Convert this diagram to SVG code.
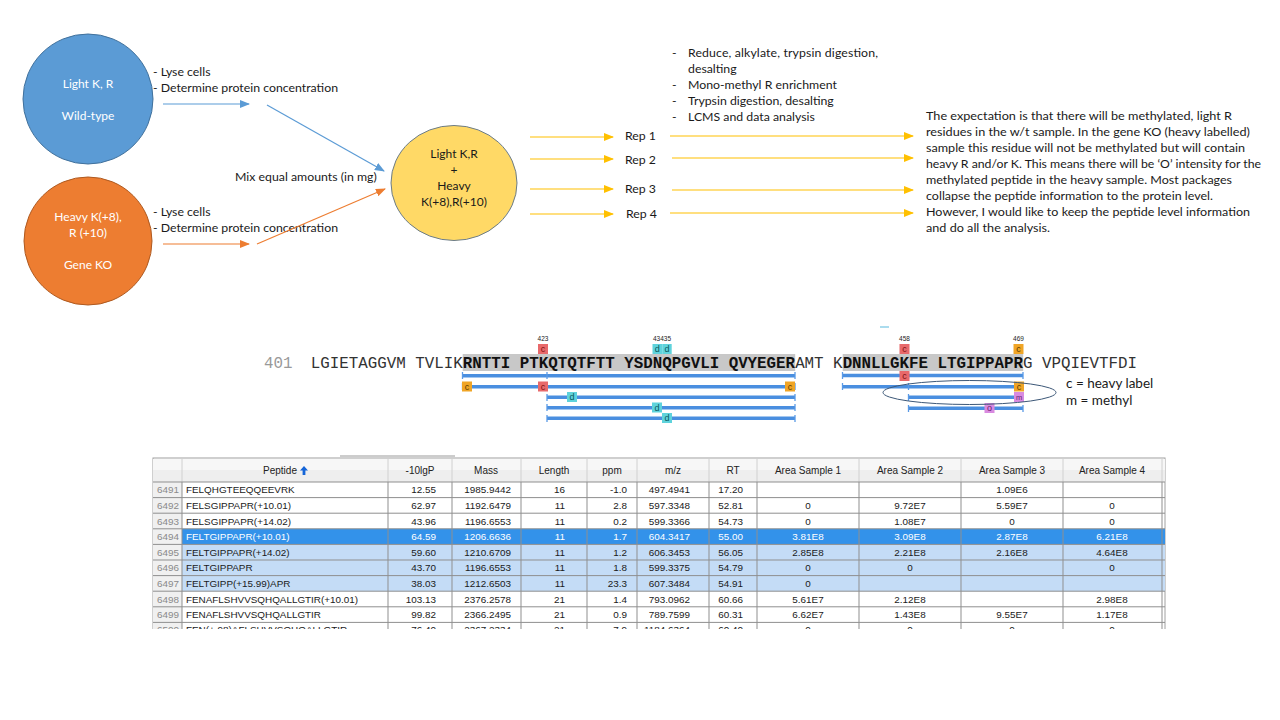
<svg xmlns="http://www.w3.org/2000/svg" width="1280" height="720" viewBox="0 0 1280 720">
<defs>
<style>
.t{font-family:Lato,"Liberation Sans",sans-serif;font-size:12.3px;fill:#1a1a1a}
.p{font-family:Lato,"Liberation Sans",sans-serif;font-size:11.4px;fill:#1a1a1a}
.w{font-family:Lato,"Liberation Sans",sans-serif;font-size:12px;fill:#ffffff;text-anchor:middle}
.seq{font-family:"Liberation Mono",monospace;font-size:15.83px;fill:#333}
.lbl{font-family:"Liberation Sans",sans-serif;font-size:6.5px;fill:#222;text-anchor:middle}
.bx{font-family:"Liberation Sans",sans-serif;font-size:9px;text-anchor:middle}
.bar{stroke:#4a8fe0;stroke-width:3.5}
.tick{stroke:#5a9ae6;stroke-width:1.3}
.tb{font-family:"Liberation Sans",sans-serif;font-size:9.9px;fill:#1a1a1a}
.th{font-family:"Liberation Sans",sans-serif;font-size:10px;fill:#222;text-anchor:middle}
.rn{font-family:"Liberation Sans",sans-serif;font-size:9.9px;fill:#8a8a8a}
.r{text-anchor:end}
.c{text-anchor:middle}
.sel{fill:#ffffff}
</style>
<marker id="mb" markerWidth="10" markerHeight="8" refX="9" refY="4" orient="auto" markerUnits="userSpaceOnUse"><path d="M0,0 L10,4 L0,8 Z" fill="#5b9bd5"/></marker>
<marker id="mo" markerWidth="10" markerHeight="8" refX="9" refY="4" orient="auto" markerUnits="userSpaceOnUse"><path d="M0,0 L10,4 L0,8 Z" fill="#ed7d31"/></marker>
<marker id="my" markerWidth="10" markerHeight="8" refX="9" refY="4" orient="auto" markerUnits="userSpaceOnUse"><path d="M0,0 L10,4 L0,8 Z" fill="#ffc000"/></marker>
<clipPath id="tclip"><rect x="150" y="450" width="1020" height="179"/></clipPath>
</defs>
<rect width="1280" height="720" fill="#ffffff"/>

<g id="light">
<circle cx="88" cy="99" r="65" fill="#5b9bd5" stroke="#41719c" stroke-width="1"/>
<text class="w" x="88" y="88">Light K, R</text>
<text class="w" x="88" y="120">Wild-type</text>
</g>
<g id="heavy">
<circle cx="88" cy="241" r="64" fill="#ed7d31" stroke="#ae5a21" stroke-width="1"/>
<text class="w" x="88" y="221">Heavy K(+8),</text>
<text class="w" x="88" y="237">R (+10)</text>
<text class="w" x="88" y="269">Gene  KO</text>
</g>
<g id="mix">
<ellipse cx="454" cy="183" rx="63" ry="57.5" fill="#ffd966" stroke="#6b7c88" stroke-width="1"/>
<text class="t" x="454" y="158" text-anchor="middle" style="font-size:12px">Light K,R</text>
<text class="t" x="454" y="174" text-anchor="middle" style="font-size:12px">+</text>
<text class="t" x="454" y="190" text-anchor="middle" style="font-size:12px">Heavy</text>
<text class="t" x="454" y="206" text-anchor="middle" style="font-size:12px">K(+8),R(+10)</text>
</g>
<g id="labels">
<text class="t" x="153" y="76">- Lyse cells</text>
<text class="t" x="153" y="92">- Determine  protein concentration</text>
<text class="t" x="153" y="216">- Lyse cells</text>
<text class="t" x="153" y="232">- Determine  protein concentration</text>
<text class="t" x="235" y="181">Mix equal amounts (in mg)</text>
<text class="t" x="625" y="140">Rep 1</text>
<text class="t" x="625" y="164">Rep 2</text>
<text class="t" x="625" y="193">Rep 3</text>
<text class="t" x="626" y="218">Rep 4</text>
</g>
<g id="steps">
<text class="t" x="672" y="57">-</text><text class="t" x="688" y="57" textLength="190" lengthAdjust="spacing">Reduce, alkylate, trypsin digestion,</text>
<text class="t" x="688" y="73">desalting</text>
<text class="t" x="672" y="89">-</text><text class="t" x="688" y="89">Mono-methyl R enrichment</text>
<text class="t" x="672" y="105">-</text><text class="t" x="688" y="105">Trypsin digestion, desalting</text>
<text class="t" x="672" y="121">-</text><text class="t" x="688" y="121">LCMS and data analysis</text>
</g>
<g id="note">
<text class="p" x="926" y="120" textLength="306" lengthAdjust="spacingAndGlyphs">The expectation is that there will be methylated, light R</text>
<text class="p" x="926" y="136" textLength="324" lengthAdjust="spacingAndGlyphs">residues in the w/t sample. In the gene KO (heavy labelled)</text>
<text class="p" x="926" y="152" textLength="319" lengthAdjust="spacingAndGlyphs">sample this residue will not be methylated but will contain</text>
<text class="p" x="926" y="168" textLength="335" lengthAdjust="spacingAndGlyphs">heavy R and/or K. This means there will be ‘O’ intensity for the</text>
<text class="p" x="926" y="184" textLength="306" lengthAdjust="spacingAndGlyphs">methylated peptide in the heavy sample. Most packages</text>
<text class="p" x="926" y="200" textLength="287" lengthAdjust="spacingAndGlyphs">collapse the peptide information to the protein level.</text>
<text class="p" x="926" y="216" textLength="324" lengthAdjust="spacingAndGlyphs">However, I would like to keep the peptide level information</text>
<text class="p" x="926" y="232" textLength="124" lengthAdjust="spacingAndGlyphs">and do all the analysis.</text>
</g>
<g id="connectors" fill="none" stroke-width="1.2">
<line x1="163" y1="104" x2="249" y2="104" stroke="#5b9bd5" marker-end="url(#mb)"/>
<line x1="267" y1="105" x2="384" y2="171" stroke="#5b9bd5" marker-end="url(#mb)"/>
<line x1="163" y1="244" x2="249" y2="244" stroke="#ed7d31" marker-end="url(#mo)"/>
<line x1="257" y1="244" x2="385" y2="189" stroke="#ed7d31" marker-end="url(#mo)"/>
<line x1="530" y1="137" x2="613" y2="137" stroke="#ffc000" marker-end="url(#my)"/>
<line x1="530" y1="159" x2="613" y2="159" stroke="#ffc000" marker-end="url(#my)"/>
<line x1="530" y1="189" x2="613" y2="189" stroke="#ffc000" marker-end="url(#my)"/>
<line x1="530" y1="214" x2="613" y2="214" stroke="#ffc000" marker-end="url(#my)"/>
<line x1="670" y1="136" x2="913" y2="136" stroke="#ffc000" marker-end="url(#my)"/>
<line x1="672" y1="158" x2="913" y2="158" stroke="#ffc000" marker-end="url(#my)"/>
<line x1="672" y1="190" x2="913" y2="190" stroke="#ffc000" marker-end="url(#my)"/>
<line x1="670" y1="213" x2="913" y2="213" stroke="#ffc000" marker-end="url(#my)"/>
</g>

<g id="sequence">
<line x1="880" y1="327" x2="889" y2="327" stroke="#8fd0e8" stroke-width="1.5"/>
<rect x="462.7" y="354" width="332.5" height="17" fill="#c8c8c8"/>
<rect x="842.7" y="354" width="180.5" height="17" fill="#c8c8c8"/>
<text class="seq" x="264" y="368" style="fill:#999">401</text>
<text class="seq" x="310.7" y="368" xml:space="preserve">LGIETAGGVM TVLIK<tspan font-weight="bold" fill="#111">RNTTI PTKQTQTFTT YSDNQPGVLI QVYEGER</tspan>AMT K<tspan font-weight="bold" fill="#111">DNNLLGKFE LTGIPPAPR</tspan>G VPQIEVTFDI</text>
<text class="lbl" x="543" y="341">423</text>
<text class="lbl" x="662" y="341">43435</text>
<text class="lbl" x="904.5" y="341">458</text>
<text class="lbl" x="1018.5" y="341">469</text>
<g id="topboxes">
<rect x="538" y="344" width="10" height="10" fill="#e8696b"/><text class="bx" x="543" y="352" fill="#7a1010">c</text>
<rect x="652.5" y="344" width="9.5" height="10" fill="#5fd3dc"/><text class="bx" x="657.2" y="352" fill="#0a5a60">d</text>
<rect x="662.2" y="344" width="9.5" height="10" fill="#5fd3dc"/><text class="bx" x="667" y="352" fill="#0a5a60">d</text>
<rect x="899.5" y="344" width="10" height="10" fill="#e8696b"/><text class="bx" x="904.5" y="352" fill="#7a1010">c</text>
<rect x="1013.5" y="344" width="10" height="10" fill="#f0a526"/><text class="bx" x="1018.5" y="352" fill="#5a3a00">c</text>
</g>
<g id="bars">
<line class="bar" x1="462" y1="375.7" x2="795" y2="375.7"/>
<line class="bar" x1="462" y1="386.7" x2="795" y2="386.7"/>
<line class="bar" x1="547" y1="397.3" x2="795" y2="397.3"/>
<line class="bar" x1="547" y1="407.7" x2="795" y2="407.7"/>
<line class="bar" x1="547" y1="418.3" x2="795" y2="418.3"/>
<line class="bar" x1="842" y1="375.5" x2="1023" y2="375.5"/>
<line class="bar" x1="842" y1="386.7" x2="1023" y2="386.7"/>
<line class="bar" x1="908" y1="397.3" x2="1023" y2="397.3"/>
<line class="bar" x1="908" y1="408.3" x2="1023" y2="408.3"/>
<path class="tick" d="M462.5,372v7M547,372v7M795,372v7M462.5,383v7M795,383v7M547,394v7M795,394v7M547,404v7M795,404v7M547,415v7M795,415v7M842.5,372v7M908.5,372v7M1023,372v7M842.5,383v7M908.5,383v7M1023,383v7M908.5,394v7M1023,394v7M908.5,405v7M1023,405v7"/>
<rect x="462" y="381.5" width="10" height="10" fill="#f0a526"/><text class="bx" x="467" y="389.5" fill="#5a3a00">c</text>
<rect x="538" y="381.5" width="10" height="10" fill="#e8696b"/><text class="bx" x="543" y="389.5" fill="#7a1010">c</text>
<rect x="785" y="381.5" width="10" height="10" fill="#f0a526"/><text class="bx" x="790" y="389.5" fill="#5a3a00">c</text>
<rect x="567" y="392" width="10" height="10" fill="#5fd3dc"/><text class="bx" x="572" y="400" fill="#0a5a60">d</text>
<rect x="652" y="402.5" width="10" height="10" fill="#5fd3dc"/><text class="bx" x="657" y="410.5" fill="#0a5a60">d</text>
<rect x="662" y="413" width="10" height="10" fill="#5fd3dc"/><text class="bx" x="667" y="421" fill="#0a5a60">d</text>
<rect x="899.5" y="371" width="10" height="10" fill="#e8696b"/><text class="bx" x="904.5" y="379" fill="#7a1010">c</text>
<rect x="1014" y="381.5" width="10" height="10" fill="#f0a526"/><text class="bx" x="1019" y="389.5" fill="#5a3a00">c</text>
<rect x="1014" y="392" width="10" height="10" fill="#d98ae0"/><text class="bx" x="1019" y="400" fill="#6a2070" style="font-size:7.5px">m</text>
<rect x="984.5" y="403" width="10" height="10" fill="#d98ae0"/><text class="bx" x="989.5" y="411" fill="#6a2070">o</text>
</g>
<ellipse cx="969.5" cy="392.5" rx="86.5" ry="12" fill="none" stroke="#3d5878" stroke-width="1"/>
<text class="t" x="1066" y="388" style="font-size:13.5px">c = heavy label</text>
<text class="t" x="1066" y="405" style="font-size:13.5px">m = methyl</text>
</g>

<g id="table">
<line x1="340" y1="456" x2="455" y2="456" stroke="#9a9a9a" stroke-width="1"/>
<g clip-path="url(#tclip)">
<rect x="153" y="458" width="1012" height="182" fill="#ffffff" stroke="#a0a0a0"/>
<rect x="153" y="459" width="1012" height="23" fill="#eeeeee"/>
<rect x="153" y="459" width="1012" height="11" fill="#f7f7f7"/>
<rect x="153" y="482" width="29" height="160" fill="#f0f0f0"/>
<rect x="182" y="528.8" width="983" height="15.6" fill="#3392ea"/>
<rect x="182" y="544.4" width="983" height="46.8" fill="#c4dcf6"/>
<g stroke="#d0d0d0" stroke-width="1">
<path d="M182,459v23M388,459v23M452,459v23M521,459v23M587,459v23M637,459v23M709,459v23M757,459v23M859,459v23M961,459v23M1063,459v23M1162,459v23"/>
</g>
<g stroke="#8f8f8f" stroke-width="1">
<path d="M153,482H1165M153,497.6H1165M153,513.2H1165M153,528.8H1165M153,544.4H1165M153,560H1165M153,575.6H1165M153,591.2H1165M153,606.8H1165M153,622.4H1165"/>
<path d="M182,482v160M388,482v160M452,482v160M521,482v160M587,482v160M637,482v160M709,482v160M757,482v160M859,482v160M961,482v160M1063,482v160M1162,482v160"/>
</g>
<text class="th" x="280" y="474">Peptide</text>
<path d="M304,466l-4,4.5h2.6v4.5h2.8v-4.5h2.6z" fill="#1565d8"/>
<text class="th" x="420" y="474">-10lgP</text>
<text class="th" x="486" y="474">Mass</text>
<text class="th" x="554" y="474">Length</text>
<text class="th" x="612" y="474">ppm</text>
<text class="th" x="673" y="474">m/z</text>
<text class="th" x="733" y="474">RT</text>
<text class="th" x="808" y="474">Area Sample 1</text>
<text class="th" x="910" y="474">Area Sample 2</text>
<text class="th" x="1012" y="474">Area Sample 3</text>
<text class="th" x="1112" y="474">Area Sample 4</text>

<g class="tb">
<text class="rn" x="157" y="493.3">6491</text><text x="186" y="493.3">FELQHGTEEQQEEVRK</text><text class="r" x="436" y="493.3">12.55</text><text class="r" x="511" y="493.3">1985.9442</text><text class="r" x="565" y="493.3">16</text><text class="r" x="627" y="493.3">-1.0</text><text class="r" x="690" y="493.3">497.4941</text><text class="r" x="743" y="493.3">17.20</text><text class="c" x="1012" y="493.3">1.09E6</text>
<text class="rn" x="157" y="508.9">6492</text><text x="186" y="508.9">FELSGIPPAPR(+10.01)</text><text class="r" x="436" y="508.9">62.97</text><text class="r" x="511" y="508.9">1192.6479</text><text class="r" x="565" y="508.9">11</text><text class="r" x="627" y="508.9">2.8</text><text class="r" x="690" y="508.9">597.3348</text><text class="r" x="743" y="508.9">52.81</text><text class="c" x="808" y="508.9">0</text><text class="c" x="910" y="508.9">9.72E7</text><text class="c" x="1012" y="508.9">5.59E7</text><text class="c" x="1112" y="508.9">0</text>
<text class="rn" x="157" y="524.5">6493</text><text x="186" y="524.5">FELSGIPPAPR(+14.02)</text><text class="r" x="436" y="524.5">43.96</text><text class="r" x="511" y="524.5">1196.6553</text><text class="r" x="565" y="524.5">11</text><text class="r" x="627" y="524.5">0.2</text><text class="r" x="690" y="524.5">599.3366</text><text class="r" x="743" y="524.5">54.73</text><text class="c" x="808" y="524.5">0</text><text class="c" x="910" y="524.5">1.08E7</text><text class="c" x="1012" y="524.5">0</text><text class="c" x="1112" y="524.5">0</text>
<text class="rn" x="157" y="540.1">6494</text><text class="sel" x="186" y="540.1">FELTGIPPAPR(+10.01)</text><text class="r sel" x="436" y="540.1">64.59</text><text class="r sel" x="511" y="540.1">1206.6636</text><text class="r sel" x="565" y="540.1">11</text><text class="r sel" x="627" y="540.1">1.7</text><text class="r sel" x="690" y="540.1">604.3417</text><text class="r sel" x="743" y="540.1">55.00</text><text class="c sel" x="808" y="540.1">3.81E8</text><text class="c sel" x="910" y="540.1">3.09E8</text><text class="c sel" x="1012" y="540.1">2.87E8</text><text class="c sel" x="1112" y="540.1">6.21E8</text>
<text class="rn" x="157" y="555.7">6495</text><text x="186" y="555.7">FELTGIPPAPR(+14.02)</text><text class="r" x="436" y="555.7">59.60</text><text class="r" x="511" y="555.7">1210.6709</text><text class="r" x="565" y="555.7">11</text><text class="r" x="627" y="555.7">1.2</text><text class="r" x="690" y="555.7">606.3453</text><text class="r" x="743" y="555.7">56.05</text><text class="c" x="808" y="555.7">2.85E8</text><text class="c" x="910" y="555.7">2.21E8</text><text class="c" x="1012" y="555.7">2.16E8</text><text class="c" x="1112" y="555.7">4.64E8</text>
<text class="rn" x="157" y="571.3">6496</text><text x="186" y="571.3">FELTGIPPAPR</text><text class="r" x="436" y="571.3">43.70</text><text class="r" x="511" y="571.3">1196.6553</text><text class="r" x="565" y="571.3">11</text><text class="r" x="627" y="571.3">1.8</text><text class="r" x="690" y="571.3">599.3375</text><text class="r" x="743" y="571.3">54.79</text><text class="c" x="808" y="571.3">0</text><text class="c" x="910" y="571.3">0</text><text class="c" x="1112" y="571.3">0</text>
<text class="rn" x="157" y="586.9">6497</text><text x="186" y="586.9">FELTGIPP(+15.99)APR</text><text class="r" x="436" y="586.9">38.03</text><text class="r" x="511" y="586.9">1212.6503</text><text class="r" x="565" y="586.9">11</text><text class="r" x="627" y="586.9">23.3</text><text class="r" x="690" y="586.9">607.3484</text><text class="r" x="743" y="586.9">54.91</text><text class="c" x="808" y="586.9">0</text>
<text class="rn" x="157" y="602.5">6498</text><text x="186" y="602.5">FENAFLSHVVSQHQALLGTIR(+10.01)</text><text class="r" x="436" y="602.5">103.13</text><text class="r" x="511" y="602.5">2376.2578</text><text class="r" x="565" y="602.5">21</text><text class="r" x="627" y="602.5">1.4</text><text class="r" x="690" y="602.5">793.0962</text><text class="r" x="743" y="602.5">60.66</text><text class="c" x="808" y="602.5">5.61E7</text><text class="c" x="910" y="602.5">2.12E8</text><text class="c" x="1112" y="602.5">2.98E8</text>
<text class="rn" x="157" y="618.1">6499</text><text x="186" y="618.1">FENAFLSHVVSQHQALLGTIR</text><text class="r" x="436" y="618.1">99.82</text><text class="r" x="511" y="618.1">2366.2495</text><text class="r" x="565" y="618.1">21</text><text class="r" x="627" y="618.1">0.9</text><text class="r" x="690" y="618.1">789.7599</text><text class="r" x="743" y="618.1">60.31</text><text class="c" x="808" y="618.1">6.62E7</text><text class="c" x="910" y="618.1">1.43E8</text><text class="c" x="1012" y="618.1">9.55E7</text><text class="c" x="1112" y="618.1">1.17E8</text>
<text class="rn" x="157" y="633">6500</text><text x="186" y="633">FEN(+.98)AFLSHVVSQHQALLGTIR</text><text class="r" x="436" y="633">76.40</text><text class="r" x="511" y="633">2367.2334</text><text class="r" x="565" y="633">21</text><text class="r" x="627" y="633">7.9</text><text class="r" x="690" y="633">1184.6364</text><text class="r" x="743" y="633">60.40</text><text class="c" x="808" y="633">0</text><text class="c" x="910" y="633">0</text><text class="c" x="1012" y="633">0</text><text class="c" x="1112" y="633">0</text>
</g>
</g>
</g>
</svg>
